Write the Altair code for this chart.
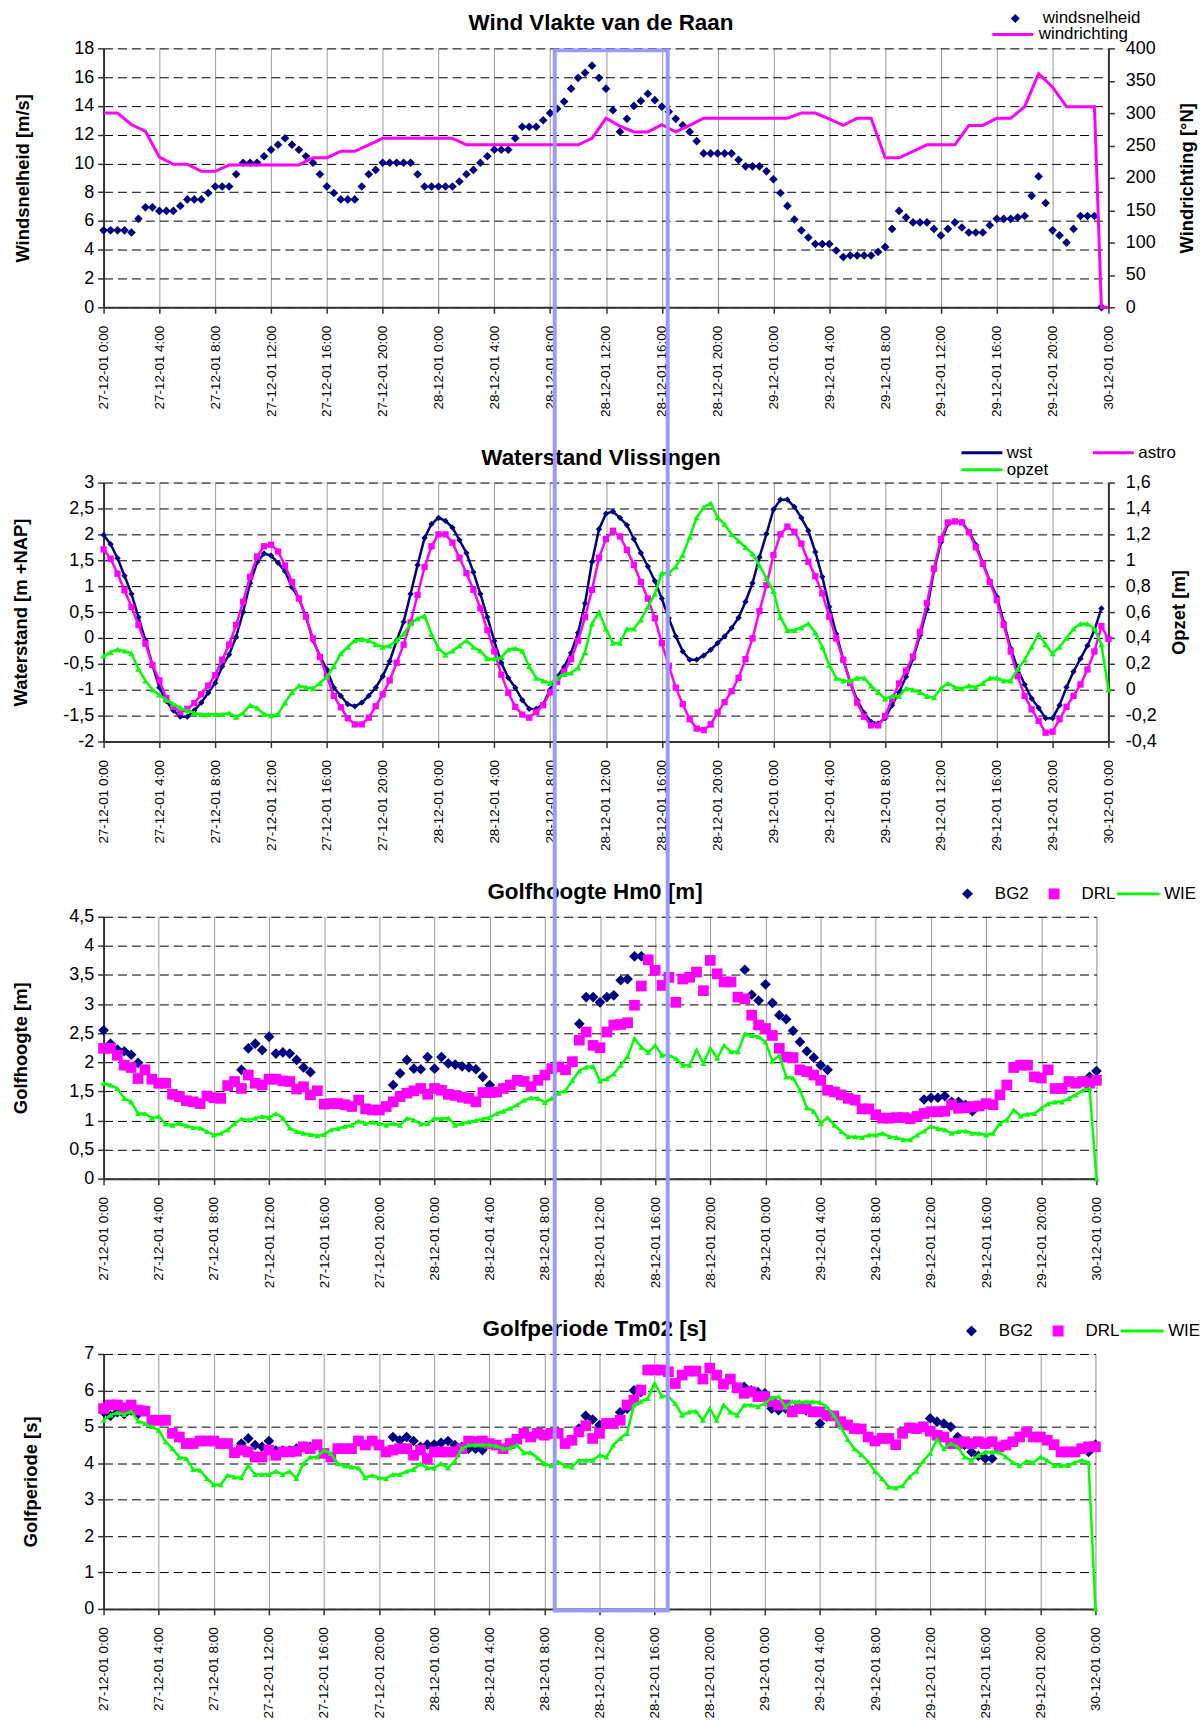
import json
import altair as alt
import pandas as pd

FONT = "Liberation Sans"
NAVY, MAGENTA, GREEN, HL = "#000080", "#ff00ff", "#00ff00", "#9999ff"

# ---------------- time grid (half-hourly, 27-12-01 0:00 .. 30-12-01 0:00) ----------
hours = [i * 0.5 for i in range(145)]
x_tick_hours = [0, 4, 8, 12, 16, 20, 24, 28, 32, 36, 40, 44, 48, 52, 56, 60, 64, 68, 72]
x_tick_labels = ["27-12-01 0:00", "27-12-01 4:00", "27-12-01 8:00", "27-12-01 12:00",
                 "27-12-01 16:00", "27-12-01 20:00", "28-12-01 0:00", "28-12-01 4:00",
                 "28-12-01 8:00", "28-12-01 12:00", "28-12-01 16:00", "28-12-01 20:00",
                 "29-12-01 0:00", "29-12-01 4:00", "29-12-01 8:00", "29-12-01 12:00",
                 "29-12-01 16:00", "29-12-01 20:00", "30-12-01 0:00"]
panel_titles = ["Wind Vlakte van de Raan", "Waterstand Vlissingen",
                "Golfhoogte Hm0 [m]", "Golfperiode Tm02 [s]"]

# ---------------- panel 1: Wind Vlakte van de Raan ----------------
windsnelheid = [
    5.35, 5.35, 5.35, 5.35, 5.2, 6.15, 6.95, 6.95, 6.7, 6.7,
    6.7, 7.05, 7.5, 7.5, 7.5, 7.95, 8.4, 8.4, 8.4, 9.25,
    10.05, 10.05, 10.05, 10.5, 10.95, 11.3, 11.75, 11.3, 10.95, 10.5,
    10.05, 9.25, 8.4, 7.95, 7.5, 7.5, 7.5, 8.4, 9.25, 9.55,
    10.05, 10.05, 10.05, 10.05, 10.05, 9.25, 8.4, 8.4, 8.4, 8.4,
    8.4, 8.75, 9.25, 9.55, 10.05, 10.5, 10.95, 10.95, 10.95, 11.75,
    12.55, 12.55, 12.55, 13.0, 13.5, 13.8, 14.3, 15.2, 15.95, 16.3,
    16.8, 15.95, 15.2, 13.7, 12.2, 13.1, 14.0, 14.35, 14.85, 14.4,
    13.95, 13.6, 13.1, 12.65, 12.2, 11.55, 10.7, 10.7, 10.7, 10.7,
    10.7, 10.25, 9.8, 9.8, 9.8, 9.45, 8.9, 7.95, 7.05, 6.1,
    5.35, 4.85, 4.4, 4.4, 4.4, 3.95, 3.5, 3.6, 3.6, 3.6,
    3.6, 3.85, 4.2, 5.45, 6.7, 6.25, 5.9, 5.9, 5.9, 5.45,
    5.0, 5.45, 5.9, 5.55, 5.2, 5.2, 5.2, 5.7, 6.15, 6.15,
    6.15, 6.25, 6.35, 7.75, 9.1, 7.25, 5.35, 5.0, 4.5, 5.45,
    6.35, 6.35, 6.35, 0.0]
windrichting_hours = list(range(72)) + [71.5, 72]
windrichting = [
    300, 300, 282, 272, 232, 221, 221, 210, 210, 220,
    220, 220, 220, 220, 220, 231, 231, 241, 241, 251,
    261, 261, 261, 261, 261, 261, 251, 251, 251, 251,
    251, 251, 251, 251, 251, 261, 292, 280, 271, 271,
    282, 271, 281, 292, 292, 292, 292, 292, 292, 292,
    300, 300, 291, 281, 292, 292, 231, 231, 241, 251,
    251, 251, 281, 281, 292, 292, 310, 361, 340, 310,
    310, 310, 0, 0]

# ---------------- panel 2: Waterstand Vlissingen ----------------
wst = [
    1.99, 1.81, 1.54, 1.20, 0.85, 0.40, -0.05, -0.52, -0.96, -1.22,
    -1.40, -1.52, -1.52, -1.40, -1.25, -1.06, -0.87, -0.55, -0.32, 0.02,
    0.50, 1.06, 1.46, 1.63, 1.59, 1.45, 1.29, 0.98, 0.76, 0.41,
    -0.04, -0.35, -0.61, -0.96, -1.12, -1.28, -1.32, -1.25, -1.12, -0.96,
    -0.74, -0.45, -0.05, 0.31, 0.85, 1.41, 1.93, 2.20, 2.32, 2.26,
    2.13, 1.89, 1.64, 1.27, 0.85, 0.40, -0.06, -0.48, -0.77, -0.96,
    -1.20, -1.37, -1.37, -1.28, -1.00, -0.75, -0.56, -0.29, 0.10, 0.67,
    1.47, 2.10, 2.40, 2.44, 2.32, 2.18, 1.91, 1.64, 1.38, 1.10,
    0.76, 0.38, 0.03, -0.26, -0.42, -0.42, -0.34, -0.23, -0.10, 0.03,
    0.19, 0.39, 0.70, 1.06, 1.56, 2.01, 2.48, 2.67, 2.67, 2.53,
    2.32, 2.07, 1.66, 1.18, 0.60, 0.08, -0.42, -0.85, -1.20, -1.45,
    -1.62, -1.65, -1.55, -1.30, -1.05, -0.75, -0.40, 0.05, 0.55, 1.30,
    1.85, 2.20, 2.25, 2.24, 2.05, 1.80, 1.45, 1.10, 0.80, 0.30,
    -0.20, -0.60, -0.90, -1.17, -1.35, -1.55, -1.55, -1.30, -0.95, -0.65,
    -0.40, -0.15, 0.15, 0.57]
astro = [
    1.71, 1.53, 1.24, 0.92, 0.60, 0.25, -0.11, -0.52, -0.82, -1.16,
    -1.33, -1.43, -1.37, -1.26, -1.09, -0.92, -0.72, -0.42, -0.13, 0.25,
    0.70, 1.18, 1.57, 1.77, 1.80, 1.67, 1.40, 1.08, 0.76, 0.41,
    -0.01, -0.37, -0.74, -1.12, -1.34, -1.55, -1.67, -1.67, -1.54, -1.32,
    -1.09, -0.82, -0.48, -0.13, 0.30, 0.83, 1.37, 1.77, 2.00, 2.00,
    1.84, 1.55, 1.25, 0.93, 0.57, 0.15, -0.26, -0.71, -1.06, -1.33,
    -1.48, -1.54, -1.43, -1.30, -1.05, -0.85, -0.65, -0.41, -0.05, 0.40,
    0.93, 1.55, 1.91, 2.07, 1.96, 1.70, 1.41, 1.08, 0.76, 0.38,
    -0.10, -0.54, -0.96, -1.28, -1.57, -1.75, -1.78, -1.67, -1.44, -1.24,
    -1.03, -0.77, -0.41, -0.01, 0.52, 1.02, 1.60, 2.00, 2.15, 2.05,
    1.82, 1.47, 1.19, 0.86, 0.41, -0.01, -0.42, -0.87, -1.25, -1.52,
    -1.69, -1.69, -1.51, -1.18, -0.88, -0.63, -0.36, 0.12, 0.67, 1.34,
    1.91, 2.23, 2.25, 2.23, 2.04, 1.75, 1.43, 1.08, 0.73, 0.25,
    -0.26, -0.74, -1.12, -1.38, -1.60, -1.83, -1.81, -1.57, -1.33, -1.12,
    -0.90, -0.61, -0.26, 0.23, -0.02]
opzet = [
    0.26, 0.29, 0.31, 0.30, 0.28, 0.16, 0.07, 0.00, -0.04, -0.08,
    -0.11, -0.14, -0.16, -0.18, -0.19, -0.19, -0.19, -0.19, -0.18, -0.21,
    -0.18, -0.12, -0.14, -0.19, -0.20, -0.19, -0.10, -0.02, 0.03, 0.02,
    0.01, 0.05, 0.10, 0.18, 0.28, 0.33, 0.38, 0.39, 0.38, 0.35,
    0.33, 0.34, 0.38, 0.43, 0.51, 0.55, 0.57, 0.43, 0.32, 0.27,
    0.30, 0.34, 0.38, 0.33, 0.30, 0.24, 0.24, 0.25, 0.31, 0.32,
    0.30, 0.18, 0.09, 0.07, 0.05, 0.09, 0.12, 0.13, 0.17, 0.29,
    0.51, 0.60, 0.47, 0.36, 0.36, 0.47, 0.47, 0.54, 0.64, 0.74,
    0.90, 0.90, 0.95, 1.04, 1.18, 1.33, 1.41, 1.44, 1.33, 1.28,
    1.20, 1.15, 1.10, 1.05, 0.96, 0.86, 0.76, 0.56, 0.46, 0.46,
    0.48, 0.51, 0.44, 0.33, 0.19, 0.09, 0.07, 0.07, 0.09, 0.09,
    0.03, -0.02, -0.07, -0.05, -0.05, 0.01, 0.00, -0.02, -0.05, -0.06,
    0.01, 0.05, 0.02, 0.01, 0.03, 0.02, 0.05, 0.09, 0.09, 0.07,
    0.07, 0.16, 0.23, 0.33, 0.43, 0.35, 0.28, 0.33, 0.40, 0.47,
    0.51, 0.51, 0.47, 0.35, 0.00]

# ---------------- panel 3: Golfhoogte Hm0 [m] ----------------
N = None
bg2_hm0 = [
    2.55, 2.32, 2.22, 2.19, 2.13, 1.99, N, N, N, N,
    N, N, N, N, N, N, N, N, N, N,
    1.87, 2.24, 2.32, 2.21, 2.44, 2.15, 2.17, 2.15, 2.04, 1.91,
    1.83, N, N, N, N, N, N, N, N, N,
    N, N, 1.61, 1.81, 2.04, 1.89, 1.88, 2.09, 1.89, 2.09,
    1.98, 1.96, 1.93, 1.91, 1.88, 1.75, 1.61, N, N, N,
    N, N, N, N, N, N, N, N, N, 2.66,
    3.12, 3.12, 3.03, 3.12, 3.15, 3.41, 3.43, 3.82, 3.82, N,
    N, N, N, N, N, N, N, N, N, N,
    N, N, N, 3.59, 3.16, 3.06, 3.34, 3.02, 2.81, 2.74,
    2.54, 2.35, 2.19, 2.08, 1.95, 1.87, N, N, N, N,
    N, N, N, N, N, N, N, N, N, 1.36,
    1.39, 1.39, 1.42, 1.32, 1.32, 1.27, 1.16, N, N, N,
    N, N, N, N, N, N, N, N, N, N,
    N, N, N, 1.75, 1.85]
drl_hm0 = [
    2.24, 2.24, 2.12, 1.95, 1.91, 1.72, 1.87, 1.71, 1.64, 1.64,
    1.45, 1.41, 1.34, 1.32, 1.29, 1.42, 1.39, 1.38, 1.60, 1.67,
    1.55, 1.78, 1.64, 1.61, 1.71, 1.71, 1.68, 1.67, 1.54, 1.58,
    1.44, 1.51, 1.28, 1.29, 1.29, 1.27, 1.24, 1.35, 1.20, 1.18,
    1.18, 1.24, 1.32, 1.41, 1.47, 1.51, 1.55, 1.45, 1.55, 1.52,
    1.45, 1.43, 1.40, 1.38, 1.32, 1.48, 1.48, 1.49, 1.55, 1.61,
    1.69, 1.67, 1.58, 1.69, 1.78, 1.89, 1.92, 1.87, 2.01, 2.38,
    2.52, 2.29, 2.25, 2.52, 2.64, 2.65, 2.68, 2.98, 3.31, 3.76,
    3.58, 3.32, 3.46, 3.03, 3.43, 3.46, 3.55, 3.23, 3.75, 3.52,
    3.38, 3.38, 3.12, 3.09, 2.81, 2.64, 2.58, 2.46, 2.24, 2.09,
    2.08, 1.87, 1.84, 1.78, 1.69, 1.52, 1.49, 1.44, 1.38, 1.35,
    1.20, 1.20, 1.10, 1.04, 1.04, 1.05, 1.05, 1.03, 1.07, 1.12,
    1.15, 1.15, 1.16, 1.27, 1.21, 1.22, 1.24, 1.25, 1.29, 1.27,
    1.44, 1.61, 1.91, 1.95, 1.95, 1.75, 1.73, 1.87, 1.55, 1.55,
    1.67, 1.64, 1.67, 1.64, 1.69]
wie_hm0 = [
    1.64, 1.61, 1.55, 1.38, 1.32, 1.12, 1.12, 1.04, 1.07, 0.94,
    0.92, 0.95, 0.91, 0.88, 0.87, 0.81, 0.75, 0.78, 0.84, 0.95,
    1.03, 1.01, 1.04, 1.07, 1.05, 1.12, 1.04, 0.87, 0.81, 0.78,
    0.76, 0.74, 0.76, 0.84, 0.86, 0.90, 0.92, 0.99, 0.95, 0.97,
    0.95, 0.92, 0.95, 0.92, 1.04, 1.01, 0.94, 0.95, 1.04, 1.03,
    1.04, 0.92, 0.95, 0.98, 1.00, 1.03, 1.05, 1.12, 1.16, 1.21,
    1.27, 1.35, 1.39, 1.38, 1.31, 1.38, 1.47, 1.51, 1.69, 1.85,
    1.92, 1.93, 1.68, 1.72, 1.80, 1.95, 2.10, 2.41, 2.26, 2.17,
    2.29, 2.12, 2.12, 2.07, 1.95, 1.95, 2.21, 1.98, 2.24, 2.07,
    2.29, 2.18, 2.18, 2.49, 2.46, 2.44, 2.35, 2.02, 2.12, 1.75,
    1.73, 1.52, 1.22, 1.16, 0.95, 1.05, 0.92, 0.81, 0.72, 0.72,
    0.71, 0.75, 0.75, 0.78, 0.72, 0.71, 0.67, 0.67, 0.75, 0.82,
    0.90, 0.86, 0.84, 0.78, 0.81, 0.82, 0.78, 0.78, 0.75, 0.78,
    0.95, 1.01, 1.18, 1.08, 1.11, 1.12, 1.21, 1.29, 1.32, 1.32,
    1.38, 1.44, 1.52, 1.55, 0.0]

# ---------------- panel 4: Golfperiode Tm02 [s] ----------------
bg2_tm02 = [
    5.41, 5.30, 5.40, 5.35, 5.45, 5.35, N, N, N, N,
    N, N, N, N, N, N, N, N, N, N,
    4.54, 4.68, 4.50, 4.45, 4.61, 4.35, 4.35, 4.35, 4.40, 4.45,
    4.45, N, N, N, N, N, N, N, N, N,
    N, N, 4.72, 4.63, 4.72, 4.61, 4.45, 4.51, 4.51, 4.56,
    4.61, 4.50, 4.45, 4.40, 4.40, 4.36, N, N, N, N,
    N, N, N, N, N, N, N, N, N, 4.95,
    5.30, 5.20, 5.05, 5.10, 5.10, 5.40, 5.50, 6.00, 5.95, N,
    N, N, N, N, N, N, N, N, N, N,
    N, N, N, 6.10, 6.00, 5.95, 5.92, 5.50, 5.46, 5.50,
    5.45, 5.50, 5.45, 5.40, 5.09, 5.28, N, N, N, N,
    N, N, N, N, N, N, N, N, N, N,
    5.23, 5.14, 5.09, 5.00, 4.72, 4.50, 4.31, 4.20, 4.13, 4.13,
    N, N, N, N, N, N, N, N, N, N,
    N, N, N, 4.31, 4.51]
drl_tm02 = [
    5.50, 5.60, 5.60, 5.52, 5.60, 5.46, 5.43, 5.18, 5.18, 5.18,
    4.82, 4.72, 4.54, 4.54, 4.61, 4.61, 4.61, 4.54, 4.54, 4.29,
    4.36, 4.31, 4.17, 4.17, 4.36, 4.22, 4.31, 4.31, 4.33, 4.45,
    4.40, 4.51, 4.27, 4.17, 4.40, 4.40, 4.40, 4.61, 4.50, 4.61,
    4.50, 4.31, 4.36, 4.40, 4.40, 4.22, 4.36, 4.13, 4.31, 4.31,
    4.31, 4.31, 4.40, 4.61, 4.59, 4.61, 4.54, 4.50, 4.40, 4.54,
    4.66, 4.82, 4.72, 4.82, 4.77, 4.82, 4.82, 4.54, 4.63, 4.86,
    5.03, 4.68, 4.82, 5.09, 5.09, 5.18, 5.60, 5.73, 6.01, 6.56,
    6.56, 6.56, 6.51, 6.19, 6.42, 6.53, 6.53, 6.31, 6.61, 6.42,
    6.17, 6.31, 6.07, 5.92, 5.96, 5.83, 5.83, 5.69, 5.60, 5.60,
    5.41, 5.50, 5.50, 5.41, 5.41, 5.32, 5.30, 5.14, 5.05, 4.95,
    4.94, 4.72, 4.61, 4.68, 4.68, 4.51, 4.82, 4.97, 4.95, 5.00,
    4.88, 4.77, 4.72, 4.54, 4.54, 4.59, 4.54, 4.59, 4.54, 4.59,
    4.45, 4.50, 4.59, 4.72, 4.86, 4.72, 4.72, 4.63, 4.51, 4.31,
    4.31, 4.31, 4.40, 4.45, 4.45]
wie_tm02 = [
    5.18, 5.32, 5.39, 5.34, 5.43, 5.16, 5.09, 5.00, 4.91, 4.59,
    4.40, 4.16, 4.13, 3.83, 3.81, 3.58, 3.41, 3.41, 3.67, 3.62,
    3.60, 3.94, 3.69, 3.69, 3.69, 3.78, 3.69, 3.78, 3.58, 3.99,
    4.17, 4.17, 4.36, 4.27, 3.99, 3.93, 3.90, 3.87, 3.60, 3.67,
    3.60, 3.58, 3.69, 3.69, 3.78, 3.83, 3.99, 3.87, 3.87, 3.99,
    3.87, 4.06, 4.40, 4.50, 4.50, 4.50, 4.50, 4.48, 4.40, 4.42,
    4.50, 4.29, 4.29, 4.15, 3.99, 3.93, 4.04, 3.93, 3.90, 4.08,
    4.08, 4.08, 4.22, 4.17, 4.50, 4.68, 4.82, 5.60, 5.69, 5.78,
    6.19, 5.85, 5.83, 5.64, 5.32, 5.41, 5.43, 5.18, 5.50, 5.18,
    5.60, 5.41, 5.32, 5.60, 5.60, 5.55, 5.64, 5.80, 5.83, 5.55,
    5.69, 5.69, 5.69, 5.69, 5.67, 5.55, 5.32, 5.00, 4.66, 4.40,
    4.24, 4.04, 3.78, 3.58, 3.35, 3.32, 3.38, 3.62, 3.78, 4.06,
    4.27, 4.66, 4.40, 4.54, 4.45, 4.17, 4.08, 4.22, 4.31, 4.31,
    4.31, 4.17, 4.02, 3.93, 4.06, 4.02, 4.17, 4.08, 3.94, 3.94,
    3.94, 4.02, 4.08, 4.02, 0.0]

# axis tick values
y1_left = [0, 2, 4, 6, 8, 10, 12, 14, 16, 18]
y1_right = [0, 50, 100, 150, 200, 250, 300, 350, 400]
y2_left = [-2, -1.5, -1, -0.5, 0, 0.5, 1, 1.5, 2, 2.5, 3]
y2_right = [-0.4, -0.2, 0, 0.2, 0.4, 0.6, 0.8, 1.0, 1.2, 1.4, 1.6]
y3_left = [0, 0.5, 1, 1.5, 2, 2.5, 3, 3.5, 4, 4.5]
y4_left = [0, 1, 2, 3, 4, 5, 6, 7]

# highlighted period on 28-12-01 (in hours from 27-12-01 0:00)
HL_START, HL_END = 32.75, 40.95

# ---------------- layout constants ----------------
W1, W2, W3, W4 = 1009, 1009, 997, 996
H1, H2, H3, H4 = 260, 260, 263, 256
GAP = 176
TOP4_FROM_TOP1 = H1 + H2 + H3 + 3 * GAP


def frame(values, name, times=None):
    t = times if times is not None else hours[:len(values)]
    return pd.DataFrame({"hour": t, "value": values, "series": name}).dropna()


X_LABEL_EXPR = f"{json.dumps(x_tick_labels)}[indexof({json.dumps(x_tick_hours)}, datum.value)]"


def x_enc(field="hour"):
    return alt.X(f"{field}:Q", scale=alt.Scale(domain=[0, 72], nice=False, zero=False),
                 axis=alt.Axis(values=x_tick_hours, labelExpr=X_LABEL_EXPR, labelAngle=270,
                               labelFont=FONT, labelFontSize=13.5, labelColor="black",
                               labelPadding=12, labelOverlap=False, labelBound=False,
                               grid=True, gridColor="#999999", gridWidth=1,
                               domainColor="#333333", domainWidth=2, tickColor="#333333",
                               tickSize=6, tickWidth=1.5, title=None))


COMMA = "replace(toString(round(datum.value*10)/10), '.', ',')"


def y_enc(values, domain, title, title_x, height, orient="left", grid=True):
    ax = dict(values=values, orient=orient, title=title, titleX=title_x, titleY=height / 2,
              titleAngle=270, titleAlign="center", titleBaseline="middle", titleFont=FONT,
              titleFontSize=18.5, titleFontWeight="bold", titleColor="black",
              labelFont=FONT, labelFontSize=18, labelColor="black",
              labelPadding=4 if orient == "left" else 11, labelExpr=COMMA,
              tickSize=6, tickColor="#333333", tickWidth=1.5,
              domainColor="#333333", domainWidth=2, grid=grid)
    if grid:
        ax.update(gridDash=[9, 5], gridColor="black", gridWidth=1)
    return alt.Y("value:Q", scale=alt.Scale(domain=domain, nice=False, zero=False),
                 axis=alt.Axis(**ax))


def legend(x, y, label_offset, size, symbol=None, columns=1, col_pad=0, stroke=0):
    kw = dict(orient="none", legendX=x, legendY=y, title=None, columns=columns,
              columnPadding=col_pad, rowPadding=0, padding=0, clipHeight=16,
              symbolSize=size, symbolStrokeWidth=stroke, symbolOpacity=1,
              labelFont=FONT, labelFontSize=17, labelColor="black",
              labelOffset=label_offset)
    if symbol:
        kw["symbolType"] = symbol
    return alt.Legend(**kw)


def title_mark(k, width):
    return alt.Chart(pd.DataFrame({"title": [panel_titles[k]]})).mark_text(
        font=FONT, fontSize=22.5, fontWeight="bold", color="black",
        align="center", baseline="middle").encode(
        text="title:N", x=alt.value(width / 2 - 5), y=alt.value(-25))


# ---------------- panel 1 ----------------
p1_pts = alt.Chart(frame(windsnelheid, "windsnelheid")).mark_point(
    shape="diamond", filled=True, size=75, opacity=1).encode(
    x=x_enc(),
    y=y_enc(y1_left, [0, 18], "Windsnelheid [m/s]", -81, H1),
    color=alt.Color("series:N", scale=alt.Scale(domain=["windsnelheid"], range=[NAVY]),
                    legend=legend(907, -38, 19, 81, symbol="diamond")))
p1_line = alt.Chart(frame(windrichting, "windrichting", windrichting_hours)).mark_line(
    strokeWidth=3).encode(
    x=x_enc(),
    y=y_enc(y1_right, [0, 400], "Windrichting [°N]", 78, H1, orient="right", grid=False),
    color=alt.Color("series:N", scale=alt.Scale(domain=["windrichting"], range=[MAGENTA]),
                    legend=legend(891, -22, 4, 1681, symbol="stroke", stroke=3)))
p1 = alt.layer(p1_pts, p1_line, title_mark(0, W1)).resolve_scale(
    y="independent", color="independent").properties(width=W1, height=H1)

# ---------------- panel 2 ----------------
# legend is filled column by column: (wst, opzet) | (astro)
leg2 = legend(860, -38, 3, 1681, symbol="stroke", columns=2, col_pad=43, stroke=3)
col2 = alt.Color("series:N", scale=alt.Scale(domain=["wst", "opzet", "astro"],
                                              range=[NAVY, GREEN, MAGENTA]), legend=leg2)
yl2 = y_enc(y2_left, [-2, 3], "Waterstand [m +NAP]", -83, H2)
yr2 = y_enc(y2_right, [-0.4, 1.6], "Opzet [m]", 70, H2, orient="right", grid=False)
df_wst, df_astro, df_opzet = frame(wst, "wst"), frame(astro, "astro"), frame(opzet, "opzet")
left2 = alt.layer(
    alt.Chart(df_wst).mark_line(strokeWidth=2.5).encode(x=x_enc(), y=yl2, color=col2),
    alt.Chart(df_wst).mark_point(shape="diamond", filled=True, size=40, color=NAVY,
                                 opacity=1).encode(x=x_enc(), y=yl2),
    alt.Chart(df_astro).mark_line(strokeWidth=2.5).encode(x=x_enc(), y=yl2, color=col2),
    alt.Chart(df_astro).mark_point(shape="square", filled=True, size=40, color=MAGENTA,
                                   opacity=1).encode(x=x_enc(), y=yl2),
)
right2 = alt.layer(
    alt.Chart(df_opzet).mark_line(strokeWidth=2.5).encode(x=x_enc(), y=yr2, color=col2),
    alt.Chart(df_opzet).mark_point(shape="triangle-up", filled=True, size=40, color=GREEN,
                                   opacity=1).encode(x=x_enc(), y=yr2),
)
p2 = alt.layer(left2, right2, title_mark(1, W2)).resolve_scale(y="independent").properties(
    width=W2, height=H2)


# ---------------- panels 3 & 4 ----------------
def wave_panel(k, bg2, drl, wie, yvals, ydom, ytitle, title_x, w, h, lx, extra=None):
    pts_df = pd.concat([frame(bg2, "BG2"), frame(drl, "DRL")])
    leg_p = legend(lx, -31, 19, 121, columns=2, col_pad=16)
    y = y_enc(yvals, ydom, ytitle, title_x, h)
    pts = alt.Chart(pts_df).mark_point(filled=True, size=115, opacity=1).encode(
        x=x_enc(), y=y,
        color=alt.Color("series:N", scale=alt.Scale(domain=["BG2", "DRL"], range=[NAVY, MAGENTA]),
                        legend=leg_p),
        shape=alt.Shape("series:N", scale=alt.Scale(domain=["BG2", "DRL"],
                                                    range=["diamond", "square"]), legend=leg_p))
    wdf = frame(wie, "WIE")
    wline = alt.Chart(wdf).mark_line(strokeWidth=2.5).encode(
        x=x_enc(), y=y,
        color=alt.Color("series:N", scale=alt.Scale(domain=["WIE"], range=[GREEN]),
                        legend=legend(lx + 157, -31, 3, 1849, symbol="stroke", stroke=3)))
    wpts = alt.Chart(wdf).mark_point(shape="triangle-up", filled=True, size=35, color=GREEN,
                                     opacity=1).encode(x=x_enc(), y=y)
    layers = [pts, wline, wpts, title_mark(k, w)] + ([extra] if extra is not None else [])
    return alt.layer(*layers).resolve_scale(color="independent", shape="independent").properties(
        width=w, height=h)


p3 = wave_panel(2, bg2_hm0, drl_hm0, wie_hm0, y3_left, [0, 4.5], "Golfhoogte [m]", -83,
                W3, H3, 859)

highlight = alt.Chart(pd.DataFrame({"start": [HL_START], "end": [HL_END]})).mark_rect(
    fill="transparent", stroke=HL, strokeWidth=4).encode(
    x=x_enc("start"), x2="end:Q",
    y=alt.value(H4 + 1.5), y2=alt.value(-(TOP4_FROM_TOP1 - 2)))

p4 = wave_panel(3, bg2_tm02, drl_tm02, wie_tm02, y4_left, [0, 7], "Golfperiode [s]", -73,
                W4, H4, 863, extra=highlight)

chart = alt.vconcat(p1, p2, p3, p4, spacing=GAP, bounds="flush").resolve_scale(
    color="independent", shape="independent").properties(
    padding={"left": 11, "top": 6, "right": 2, "bottom": 2},
    autosize=alt.AutoSizeParams(type="pad"),
    background="white",
).configure_view(stroke="#808080", strokeWidth=2).configure(font=FONT)

chart.save("out.html", embed_options={"renderer": "svg", "actions": False})
